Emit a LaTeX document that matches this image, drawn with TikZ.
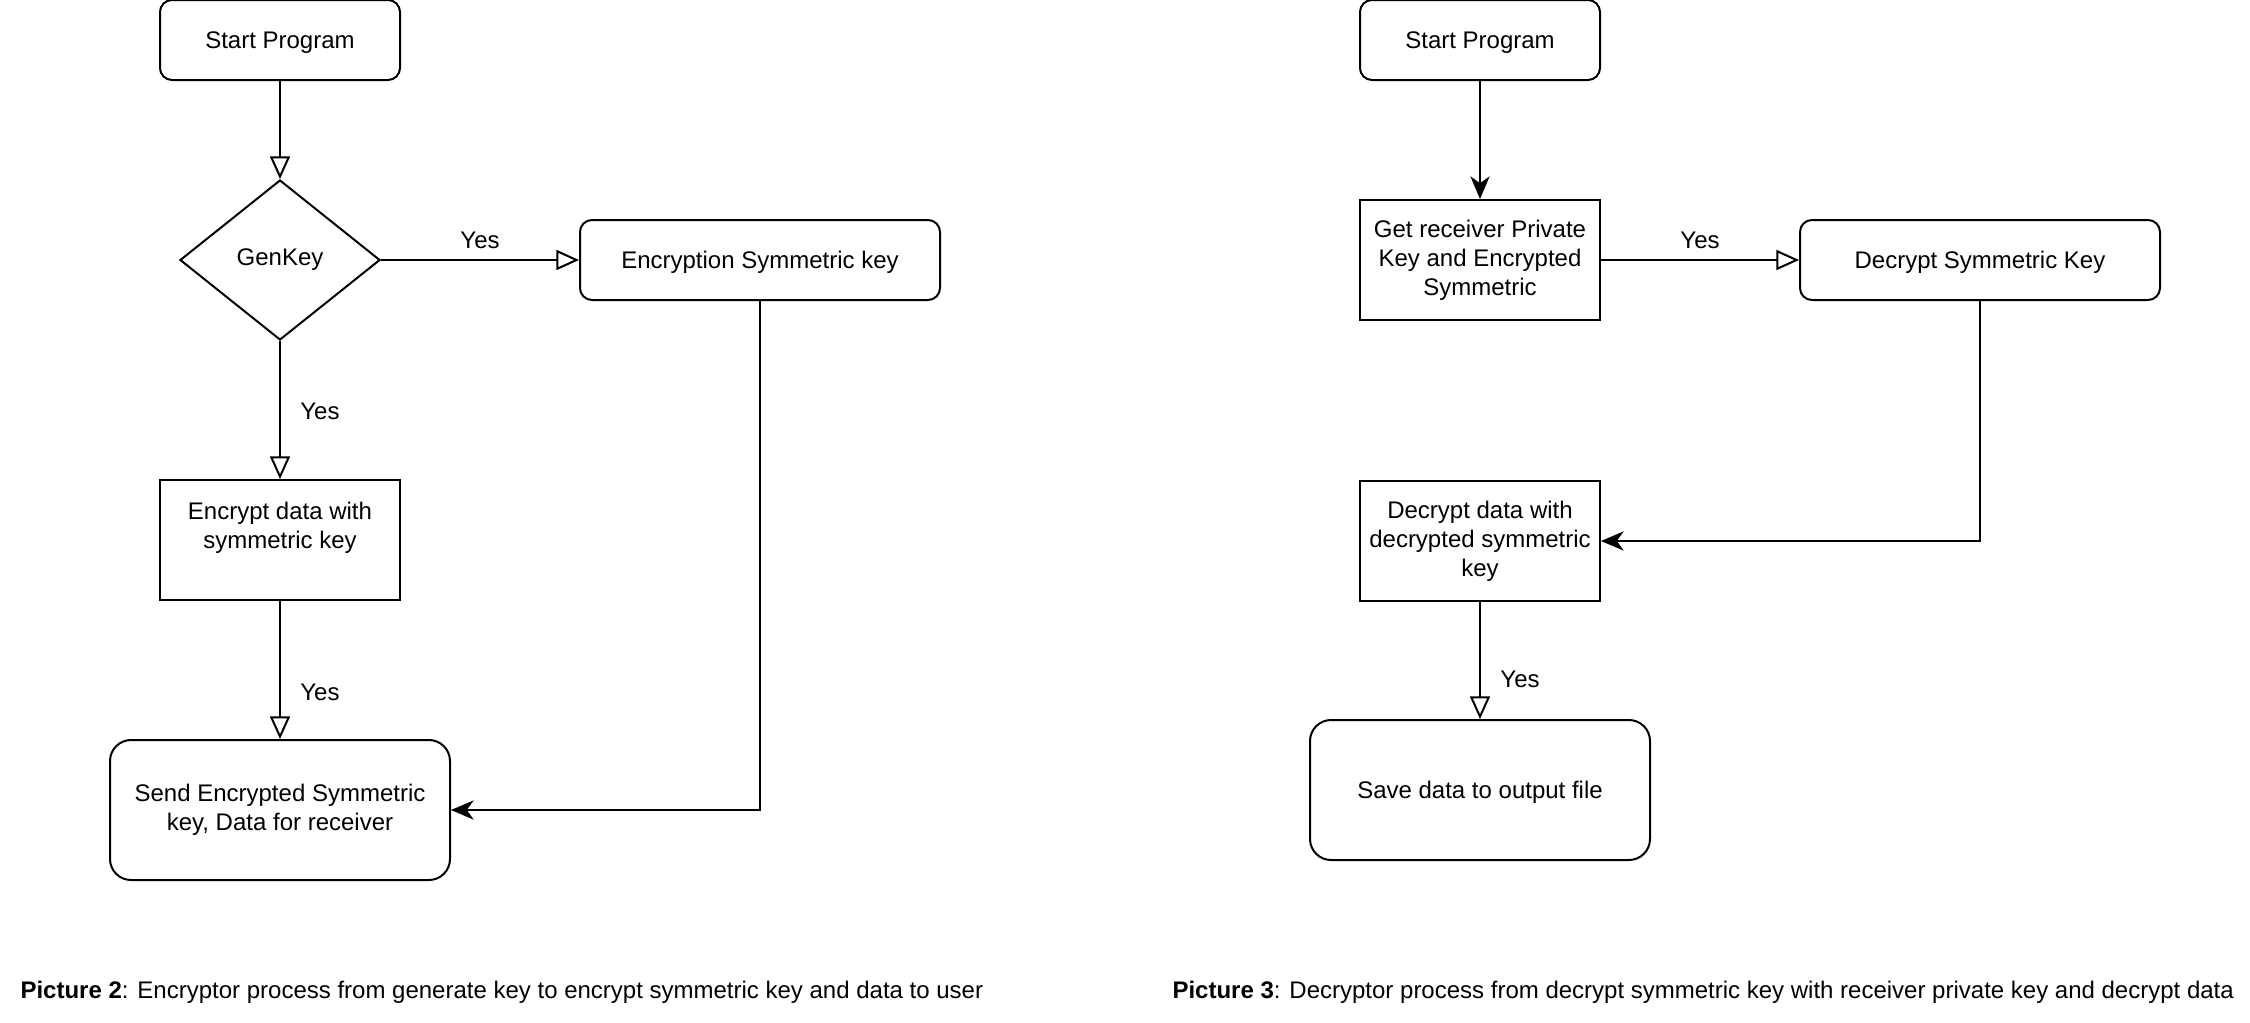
\documentclass[tikz,border=0pt]{standalone}
\usepackage{fontspec}
\setmainfont{Liberation Sans}
\usetikzlibrary{arrows.meta,shapes.geometric}
\begin{document}
\begin{tikzpicture}[x=0.375pt,y=-0.375pt,
  every node/.style={font=\fontsize{9pt}{10.8pt}\selectfont, align=center, inner sep=0pt},
  base/.style={draw, line width=0.75pt},
  oneline/.style={text height=8.6pt, text depth=1.9pt},
  rbox/.style={base, oneline, rounded corners=4.5pt, minimum width=90pt, minimum height=30pt},
  wbox/.style={base, oneline, rounded corners=4.5pt, minimum width=135pt, minimum height=30pt},
  bigbox/.style={base, rounded corners=7.9pt, minimum width=127.5pt, minimum height=52.5pt},
  sqbox/.style={base, minimum width=90pt, minimum height=45pt},
  dia/.style={base, shape=diamond, aspect=1.25, minimum width=75pt, minimum height=60pt},
  conn/.style={line width=0.75pt},
  hollow/.style={conn, -{Triangle[open, length=8.5pt, width=7.5pt]}},
  solid/.style={conn, -{Stealth[length=8.5pt, width=7.2pt, inset=2.6pt]}},
  lbl/.style={font=\fontsize{9pt}{10.8pt}\selectfont}
]
\useasboundingbox (0,0) rectangle (2250,1022);
% left flowchart
\node[rbox] (s1) at (280,40) {Start Program};
\node[dia] (gk) at (280,260) {GenKey};
\node[wbox] (esk) at (760,260) {Encryption Symmetric key};
\node[sqbox] (ed) at (280,540) {Encrypt data with\\symmetric key\\\rule{0pt}{0pt}};
\node[bigbox] (send) at (280,810) {Send Encrypted Symmetric\\key, Data for receiver};
\draw[hollow] (s1) -- (gk);
\draw[hollow] (gk) -- node[lbl, pos=0.5, yshift=7.5pt] {Yes} (esk);
\draw[hollow] (gk) -- node[lbl, pos=0.51, xshift=15pt] {Yes} (ed);
\draw[hollow] (ed) -- node[lbl, pos=0.66, xshift=15pt] {Yes} (send);
\draw[solid] (esk.south) |- (send.east);
% right flowchart
\node[rbox] (s2) at (1480,40) {Start Program};
\node[sqbox] (gr) at (1480,260) {Get receiver Private\\Key and Encrypted\\Symmetric};
\node[wbox] (dsk) at (1980,260) {Decrypt Symmetric Key};
\node[sqbox] (dd) at (1480,541) {Decrypt data with\\decrypted symmetric\\key};
\node[bigbox, oneline] (save) at (1480,790) {Save data to output file};
\draw[solid] (s2) -- (gr);
\draw[hollow] (gr) -- node[lbl, pos=0.5, yshift=7.5pt] {Yes} (dsk);
\draw[solid] (dsk.south) |- (dd.east);
\draw[hollow] (dd) -- node[lbl, pos=0.66, xshift=15pt] {Yes} (save);
% captions
\node[anchor=west] (c1) at (20,992) {\textbf{Picture 2}: Encryptor process from generate key to encrypt symmetric key and data to user};
\node[anchor=west] (c2) at (1172,992) {\textbf{Picture 3}: Decryptor process from decrypt symmetric key with receiver private key and decrypt data};
\end{tikzpicture}
\end{document}
